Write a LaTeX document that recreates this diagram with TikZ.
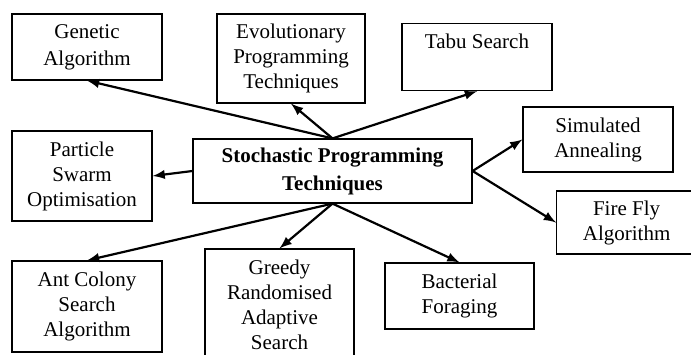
\documentclass[tikz,border=0pt]{standalone}
\usepackage{fontspec}
\setmainfont{Liberation Serif}
\usepackage{tikz}
\usetikzlibrary{arrows}

\newcommand{\techfont}{\fontsize{10.5}{12.5}\selectfont}

\begin{document}
\begin{tikzpicture} [
    x=0.5pt, y=-0.5pt,
    edge/.style={-latex, line width=1.1pt, color=black},
    techBox/.style={rectangle, draw=black, line width=0.6pt, align=center, inner sep=3pt, font=\techfont},
    mainBox/.style={rectangle, draw=black, line width=0.6pt, align=center, inner sep=3pt, font=\techfont\bfseries}
]

\useasboundingbox (0,0) rectangle (691,354);

\node[mainBox, minimum width=139.5pt, minimum height=32pt] (stochastic) at (332.5,171) {Stochastic Programming\\[1.5pt]Techniques};

\node[techBox, minimum width=75pt, minimum height=33pt] (genetic) at (87,47) {Genetic\\[1pt]Algorithm};

\node[techBox, minimum width=74pt, minimum height=44.5pt] (evolution) at (291,58.5) {Evolutionary\\Programming\\Techniques};

\node[techBox, minimum width=75pt, text height=9.5pt, text depth=18pt, anchor=north] (tabu) at (477,23) {Tabu Search};

\draw[edge] (stochastic.north) -- (genetic.south);
\draw[edge] (stochastic.north) -- (evolution.south);
\draw[edge] (stochastic.north) -- (tabu.south);

\node[techBox, minimum width=75pt, minimum height=32.5pt] (simulated) at (598,139.5) {Simulated\\Annealing};

\node[techBox, minimum width=80pt, minimum height=31.5pt, anchor=west] (firefly) at (556,222.5) {\hspace*{-10pt}Fire Fly\\\hspace*{-10pt}Algorithm};

\draw[edge] (stochastic.east) -- (simulated.west);
\draw[edge] (stochastic.east) -- (firefly.west);

\node[techBox, minimum width=70pt, minimum height=45pt] (particle) at (82,176) {Particle\\Swarm\\Optimisation};

\draw[edge] (stochastic.west) -- (particle.east);

\node[techBox, minimum width=75pt, minimum height=45.5pt] (ant) at (87,306.5) {Ant Colony\\Search\\Algorithm};

\node[techBox, minimum width=74.5pt, minimum height=56pt] (greedy) at (279.5,305) {Greedy\\Randomised\\Adaptive\\Search};

\node[techBox, minimum width=74.5pt, minimum height=33pt] (bacterial) at (459.5,296) {Bacterial\\Foraging};

\draw[edge] (stochastic.south) -- (ant.north);
\draw[edge] (stochastic.south) -- (greedy.north);
\draw[edge] (stochastic.south) -- (bacterial.north);

\end{tikzpicture}
\end{document}
